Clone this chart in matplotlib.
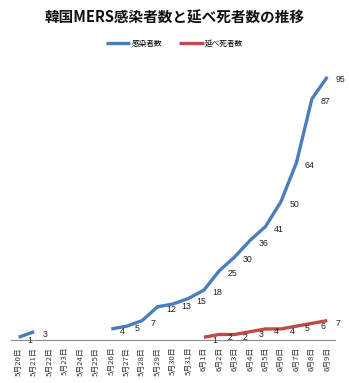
import matplotlib
matplotlib.use("Agg")
import matplotlib.pyplot as plt
import numpy as np

plt.rcParams['font.family'] = ['Noto Sans CJK JP', 'DejaVu Sans']

dates = ["5月20日", "5月21日", "5月22日", "5月23日", "5月24日", "5月25日",
         "5月26日", "5月27日", "5月28日", "5月29日", "5月30日", "5月31日",
         "6月1日", "6月2日", "6月3日", "6月4日", "6月5日", "6月6日",
         "6月7日", "6月8日", "6月9日"]
# None marks days with no reported figure
infected = [1, 3, None, None, None, None,
            4, 5, 7, 12, 13, 15,
            18, 25, 30, 36, 41, 50, 64, 87, 95]
deaths = [None] * 12 + [1, 2, 2, 3, 4, 4, 5, 6, 7]

blue = "#4A7EBB"
red = "#BE4B48"

W, H = 349, 383
fig = plt.figure(figsize=(W / 100, H / 100), dpi=100)
ax = fig.add_axes([11 / W, 1 - 340 / H, (335 - 11) / W, (340 - 63) / H])

x = np.arange(len(dates))


def to_arr(vals):
    return np.array([np.nan if v is None else v for v in vals], dtype=float)


inf_arr = to_arr(infected)
dth_arr = to_arr(deaths)

ax.plot(x, inf_arr, color=blue, lw=2.4, solid_capstyle='butt', label="感染者数")
ax.plot(x, dth_arr, color=red, lw=2.4, solid_capstyle='butt', label="延べ死者数")

for arr in (inf_arr, dth_arr):
    for xi, v in zip(x, arr):
        if not np.isnan(v):
            ax.annotate(f"{int(v)}", (xi, v), xytext=(6, -2), textcoords='offset points',
                        ha='left', va='center', fontsize=6.3, color='#222222',
                        family=['Liberation Sans', 'DejaVu Sans'])

ax.set_xlim(-0.5, len(dates) - 0.5)
ax.set_ylim(0, 100)
ax.set_yticks([])
ax.set_xticks(x)
ax.set_xticklabels(dates, rotation=90, fontsize=5.6, color='#333333')
ax.tick_params(axis='x', length=0, pad=5)
for s in ('top', 'right', 'left'):
    ax.spines[s].set_visible(False)
ax.spines['bottom'].set_color('#8C8C8C')
ax.spines['bottom'].set_linewidth(0.8)

fig.text(0.5, 1 - 18 / H, "韓国MERS感染者数と延べ死者数の推移", ha='center', va='center',
         fontsize=10.5, fontweight='bold', color='#111111')
fig.legend(loc='center', bbox_to_anchor=(0.5, 1 - 44 / H), ncol=2, frameon=False,
           fontsize=5.5, handlelength=3.2, handletextpad=0.2, columnspacing=2.2)

fig.savefig("out.png", dpi=100)
